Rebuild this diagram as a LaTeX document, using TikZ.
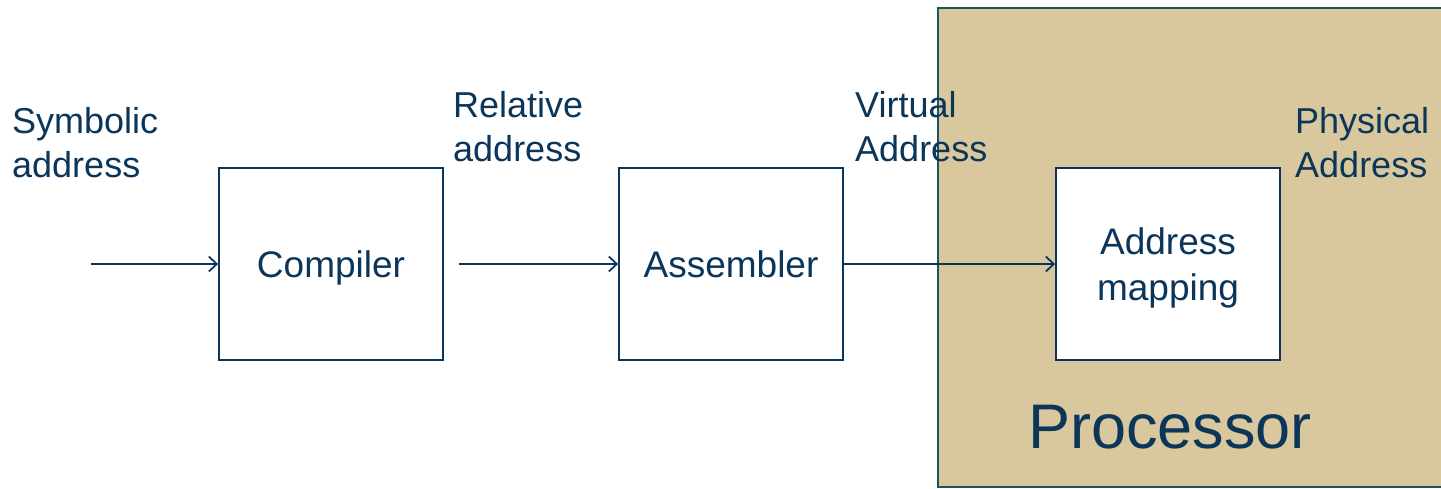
\documentclass[tikz,border=0pt]{standalone}
\usepackage{fontspec}
\setmainfont{Liberation Sans}
\usetikzlibrary{arrows.meta}
\definecolor{navy}{HTML}{0B3559}
\definecolor{procfill}{HTML}{D9C89D}
\definecolor{procline}{HTML}{1B5561}
\tikzset{
  stage/.style={draw=navy, line width=1.8pt, fill=white, minimum width=224pt,
    minimum height=192pt, inner sep=0pt, text=navy, align=center,
    font=\fontsize{37}{46}\selectfont, text height=26pt, text depth=0pt},
  lbl/.style={anchor=north west, inner sep=0pt, text=navy, align=left,
    font=\fontsize{36}{44.5}\selectfont},
  flow/.style={draw=navy, line width=1.8pt,
    -{Straight Barb[length=8pt,width=15pt,line width=1.8pt]}}
}
\begin{document}
\begin{tikzpicture}[x=1pt,y=-1pt]
  \useasboundingbox (0,0) rectangle (1441,488);
  \clip (0,0) rectangle (1441,488);
  % processor region, open towards the right
  \path[fill=procfill, draw=procline, line width=1.8pt]
    (1460,8) -- (938,8) -- (938,487) -- (1460,487);
  \node[text=navy, font=\fontsize{63}{70}\selectfont, inner sep=0pt,
    text height=45pt, text depth=0pt] (proc) at (1170,426) {Processor};
  % stages
  \node[stage] (comp) at (331,264) {Compiler};
  \node[stage] (asm)  at (731,264) {Assembler};
  \node[stage, text height=72pt, text depth=-1pt] (map) at (1168,264) {Address\\mapping};
  % address labels
  \node[lbl] (sym)  at (12,107)  {Symbolic\\address};
  \node[lbl] (rel)  at (453,91)  {Relative\\address};
  \node[lbl] (virt) at (855,91)  {Virtual\\Address};
  \node[lbl] (phys) at (1295,107) {Physical\\Address};
  % flow
  \coordinate (in) at (91,264);
  \coordinate (mid) at (459,264);
  \draw[flow] (in) -- (comp.west);
  \draw[flow] (mid) -- (asm.west);
  \draw[flow] (asm.east) -- (map.west);
\end{tikzpicture}
\end{document}
